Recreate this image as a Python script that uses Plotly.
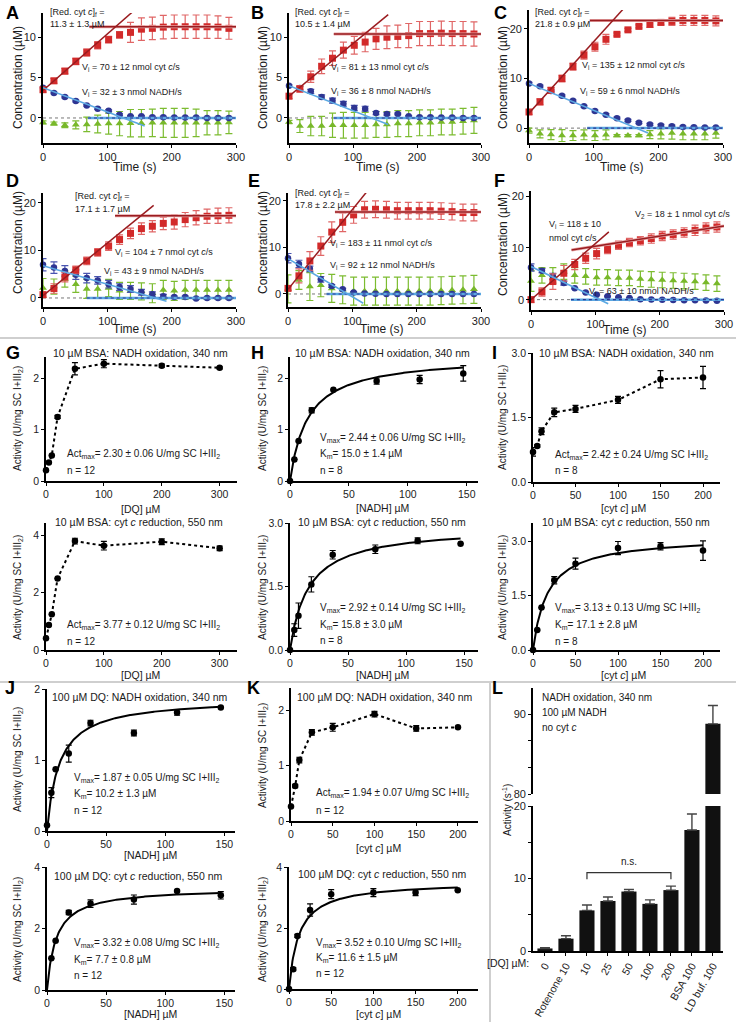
import numpy as np
import plotly.graph_objects as go

W, H = 736, 1022
FONT = "Liberation Sans, Arial, Helvetica, sans-serif"

# ---------------- DATA ----------------
t = [0, 17, 34, 51, 68, 85, 102, 119, 136, 153, 170, 187, 204, 221, 238, 255, 272, 289]

A_red = [3.5, 4.6, 5.8, 7.0, 8.1, 9.0, 9.7, 10.3, 10.6, 11.0, 11.1, 11.25, 11.3, 11.3, 11.3, 11.3, 11.25, 11.1]
A_red_err = [0.3, 0.3, 0.35, 0.4, 0.45, 0.45, 0.4, 0.4, 1.25, 1.4, 1.4, 1.45, 1.45, 1.45, 1.45, 1.45, 1.4, 1.35]
A_blue = [3.75, 3.1, 2.6, 2.1, 1.55, 1.15, 0.9, 0.4, 0.2, 0.2, 0.1, 0.1, 0.05, 0.05, 0.05, 0.0, 0.0, 0.0]
A_blue_err = [0.1] * 18
A_green = [-0.55, -0.7, -0.9, -0.85, -0.8, -0.75, -0.7, -0.7, -0.65, -0.65, -0.6, -0.6, -0.6, -0.6, -0.6, -0.6, -0.6, -0.55]
A_green_err = [0.2, 0.2, 0.3, 0.5, 0.9, 1.1, 1.3, 1.5, 1.7, 1.7, 1.7, 1.8, 1.8, 1.8, 1.7, 1.5, 1.5, 1.4]

B_red = [2.7, 3.6, 5.1, 6.4, 7.4, 8.4, 9.0, 9.4, 9.8, 10.0, 10.1, 10.2, 10.45, 10.45, 10.5, 10.45, 10.45, 10.4]
B_red_err = [0.3, 0.4, 0.7, 0.9, 0.9, 1.0, 1.1, 1.2, 1.3, 1.4, 1.4, 1.5, 1.5, 1.5, 1.5, 1.5, 1.5, 1.5]
B_blue = [4.0, 3.7, 3.3, 2.6, 2.15, 1.75, 1.25, 1.15, 0.6, 0.5, 0.5, 0.2, 0.1, 0.1, 0.05, 0.05, 0.0, 0.0]
B_blue_err = [0.1, 0.2, 0.25, 0.25, 0.3, 0.3, 0.3, 0.3, 0.2, 0.15, 0.1, 0.1, 0.1, 0.1, 0.1, 0.1, 0.1, 0.1]
B_green = [-0.5, -1.0, -1.0, -1.0, -0.9, -0.9, -0.9, -0.9, -0.8, -0.8, -0.7, -0.7, -0.6, -0.6, -0.5, -0.5, -0.4, -0.3]
B_green_err = [0.2, 0.8, 1.2, 1.2, 1.5, 1.6, 1.6, 1.6, 1.6, 1.6, 1.6, 1.6, 1.6, 1.6, 1.6, 1.6, 1.6, 1.6]

C_red = [3.25, 5.3, 7.6, 10.0, 12.4, 14.7, 16.4, 17.9, 18.9, 19.8, 20.5, 20.9, 21.3, 21.5, 21.7, 21.7, 21.7, 21.6]
C_red_err = [0.5, 0.6, 0.6, 0.7, 0.7, 0.8, 0.9, 1.0, 0.3, 0.3, 0.3, 0.6, 0.5, 0.8, 1.0, 1.0, 1.0, 1.0]
C_blue = [9.0, 8.45, 7.5, 6.5, 5.5, 4.4, 3.45, 2.7, 2.0, 1.55, 1.1, 0.75, 0.55, 0.4, 0.2, 0.15, 0.1, 0.1]
C_blue_err = [0.2] * 18
C_green = [-0.5, -1.15, -1.3, -1.5, -1.5, -1.35, -1.5, -1.35, -1.5, -1.5, -1.5, -1.3, -1.15, -1.0, -1.15, -1.15, -1.15, -1.0]
C_green_err = [0.5, 0.8, 1.0, 1.2, 1.0, 1.0, 1.0, 1.0, 0.2, 0.2, 0.2, 0.8, 1.0, 1.2, 1.2, 1.2, 1.2, 1.0]

D_red = [0.7, 2.0, 4.4, 5.9, 7.8, 9.6, 10.9, 12.3, 13.6, 14.6, 15.1, 15.7, 16.0, 16.5, 16.9, 17.2, 17.3, 17.4]
D_red_err = [0.5, 1.0, 1.0, 0.8, 0.8, 0.8, 0.9, 1.0, 1.1, 1.2, 1.2, 1.3, 1.5, 1.5, 1.5, 1.5, 1.6, 1.6]
D_blue = [7.0, 6.4, 5.7, 4.9, 4.2, 3.7, 2.9, 2.3, 1.9, 1.2, 0.8, 0.35, 0.2, 0.2, -0.1, 0.0, 0.0, 0.0]
D_blue_err = [1.3, 1.2, 1.1, 1.0, 1.0, 0.8, 0.8, 0.7, 0.7, 0.6, 0.5, 0.4, 0.2, 0.2, 0.2, 0.2, 0.2, 0.2]
D_green = [2.1, 2.4, 4.0, 2.9, 1.9, 1.9, 2.1, 1.5, 1.5, 1.4, 1.0, 1.7, 1.5, 1.7, 1.7, 1.7, 1.7, 1.7]
D_green_err = [2.0, 1.6, 1.7, 1.7, 2.0, 1.8, 1.8, 1.8, 1.8, 1.8, 2.0, 2.0, 2.0, 2.0, 2.0, 2.0, 2.0, 2.0]

E_red = [1.2, 3.9, 7.1, 10.3, 13.3, 15.4, 17.0, 18.1, 18.2, 18.1, 17.9, 17.9, 17.9, 17.9, 17.8, 17.7, 17.5, 17.5]
E_red_err = [0.5, 1.5, 2.0, 2.0, 2.2, 2.0, 1.8, 1.8, 1.8, 1.8, 1.8, 1.8, 1.8, 1.8, 1.8, 1.8, 1.8, 1.8]
E_blue = [7.7, 6.45, 5.4, 3.15, 1.7, 1.0, 0.3, 0.1, 0.05, 0.0, 0.0, 0.0, 0.0, 0.0, 0.0, 0.0, 0.0, 0.0]
E_blue_err = [1.0, 0.8, 0.6, 0.6, 0.3, 0.2, 0.2, 0.1, 0.1, 0.1, 0.1, 0.1, 0.1, 0.1, 0.1, 0.1, 0.1, 0.1]
E_green = [1.1, 3.0, 1.6, 1.9, 1.2, 0.9, 0.6, 0.6, 0.6, 0.6, 0.6, 0.6, 0.6, 0.6, 0.7, 0.8, 0.9, 1.0]
E_green_err = [3.0, 2.0, 3.0, 2.5, 3.0, 3.0, 3.0, 3.0, 3.0, 3.0, 3.0, 3.0, 3.0, 3.0, 3.0, 3.0, 3.0, 3.0]

F_red = [0.0, 1.5, 3.5, 5.1, 6.8, 8.0, 8.9, 9.7, 10.5, 11.05, 11.4, 11.8, 12.3, 12.6, 13.0, 13.4, 13.85, 14.05]
F_red_err = [0.5, 0.8, 1.5, 1.5, 1.0, 1.0, 1.0, 0.8, 0.8, 0.8, 0.8, 0.9, 0.9, 0.9, 0.9, 1.0, 1.0, 1.0]
F_blue = [6.2, 5.6, 4.5, 3.2, 2.2, 1.4, 0.95, 0.65, 0.45, 0.3, 0.1, 0.05, 0.0, -0.05, -0.1, -0.1, -0.15, -0.2]
F_blue_err = [0.7, 0.4, 0.6, 0.4, 0.1, 0.1, 0.1, 0.1, 0.1, 0.1, 0.1, 0.1, 0.1, 0.1, 0.1, 0.1, 0.1, 0.1]
F_green = [3.6, 4.7, 4.7, 5.4, 4.7, 4.5, 4.3, 4.3, 4.2, 4.2, 4.0, 3.9, 3.8, 3.7, 3.6, 3.5, 3.3, 3.1]
F_green_err = [2.0, 1.5, 1.5, 1.5, 1.5, 1.5, 1.5, 1.5, 1.5, 1.5, 1.5, 1.5, 1.5, 1.5, 1.5, 1.5, 1.5, 1.5]

# fitted lines: ([t0, t1], [y0, y1])
A_fit_red = ([0, 140], [3.4, 13.2]);   A_plat_red = ([72, 300], [11.3, 11.3])
A_fit_blue = ([0, 158], [3.75, -1.0]); A_plat_blue = ([70, 300], [0, 0])
B_fit_red = ([0, 155], [2.7, 12.8]);   B_plat_red = ([70, 300], [10.4, 10.4])
B_fit_blue = ([0, 155], [4.0, -0.8]);  B_plat_blue = ([70, 300], [0, 0])
C_fit_red = ([0, 145], [3.0, 23.9]);   C_plat_red = ([94, 300], [21.7, 21.7])
C_fit_blue = ([0, 184], [9.0, -1.0]);  C_plat_blue = ([90, 300], [0, 0])
D_fit_red = ([0, 172], [0.5, 19.5]);   D_plat_red = ([112, 300], [17.3, 17.3])
D_fit_blue = ([0, 192], [6.8, -0.7]);  D_plat_blue = ([68, 300], [0, 0])
E_fit_red = ([0, 125], [1.0, 22.4]);   E_plat_red = ([73, 300], [17.6, 17.6])
E_fit_blue = ([0, 117], [7.6, -2.0]);  E_plat_blue = ([60, 300], [0, 0])
F_fit_red = ([0, 121], [0.0, 13.1]);   F_plat_red = ([63, 300], [9.6, 14.25])
F_fit_blue = ([0, 120], [6.4, -0.8]);  F_plat_blue = ([62, 300], [0, 0])

DQ_x = [0, 5, 10, 20, 50, 100, 200, 300]
G_top_y = [0.21, 0.36, 0.5, 1.25, 2.19, 2.29, 2.25, 2.21]
G_top_err = [0, 0, 0, 0.03, 0.12, 0.08, 0.03, 0.02]
G_bot_y = [0.41, 0.87, 1.24, 2.49, 3.79, 3.63, 3.77, 3.54]
G_bot_err = [0, 0, 0, 0, 0.1, 0.15, 0.1, 0.08]

NADH_x = [0, 3.7, 7.3, 18.4, 36.8, 73.5, 110, 147]
H_top_y = [0, 0.42, 0.78, 1.38, 1.78, 1.95, 1.98, 2.1]
H_top_err = [0, 0, 0, 0.05, 0, 0.06, 0.08, 0.15]
H_bot_y = [0, 0.47, 0.81, 1.55, 2.25, 2.38, 2.58, 2.51]
H_bot_err = [0, 0.15, 0.3, 0.18, 0.1, 0.1, 0.07, 0]

CYT_x = [0, 5, 10, 25, 50, 100, 150, 200]
I_top_y = [0.70, 0.84, 1.18, 1.62, 1.70, 1.91, 2.39, 2.43]
I_top_err = [0.1, 0.03, 0.08, 0.1, 0.08, 0.08, 0.2, 0.26]
I_bot_y = [0, 0.55, 1.17, 1.92, 2.38, 2.81, 2.86, 2.74]
I_bot_err = [0, 0, 0, 0.1, 0.15, 0.18, 0.1, 0.27]

J_top_y = [0.08, 0.54, 0.87, 1.09, 1.52, 1.38, 1.67, 1.74]
J_top_err = [0, 0.07, 0, 0.12, 0.04, 0.04, 0.04, 0]
J_bot_y = [-0.02, 1.03, 1.6, 2.52, 2.81, 2.94, 3.22, 3.08]
J_bot_err = [0, 0, 0, 0.07, 0.12, 0.15, 0, 0.12]

K_top_y = [0.26, 0.63, 1.1, 1.6, 1.69, 1.93, 1.67, 1.69]
K_top_err = [0, 0.03, 0.05, 0.05, 0.07, 0.05, 0.05, 0]
K_bot_y = [0, 0.65, 1.74, 2.59, 3.11, 3.16, 3.16, 3.24]
K_bot_err = [0, 0.05, 0.05, 0.2, 0.15, 0.13, 0.1, 0]

# Michaelis-Menten fit parameters (Vmax, Km) as printed
H_top_fit = (2.44, 15.0)
H_bot_fit = (2.92, 15.8)
I_bot_fit = (3.13, 17.1)
J_top_fit = (1.87, 10.2)
J_bot_fit = (3.32, 7.7)
K_bot_fit = (3.52, 11.6)

L_labels = ['0', 'Rotenone 10', '10', '25', '50', '100', '200', 'BSA 100', 'LD buf. 100']
L_vals = [0.35, 1.7, 5.6, 6.9, 8.2, 6.5, 8.4, 16.7, 88.8]
L_err = [0.1, 0.4, 0.75, 0.55, 0.3, 0.55, 0.55, 2.2, 2.3]

# ---------------- STYLE ----------------
RED = '#d22a2a'; RED_E = '#e06666'; RED_FIT = '#9a1c20'; RED_SH = '#e6a3a3'
BLUE = '#2e3592'; BLUE_E = '#4a55b0'; BLUE_FIT = '#5ba8e2'
GREEN = '#78b82a'; GREEN_E = '#7cbc30'

fig = go.Figure()
lay = {}
annotations = []
shapes = []
counter = [0]


def add_axes(xpx, ypx, xr, yr, xt, yt, xtt=None, ytt=None, showx=True, xangle=None, xfont=11, tfont=11):
    counter[0] += 1
    i = counter[0]
    xn = 'xaxis' if i == 1 else f'xaxis{i}'
    yn = 'yaxis' if i == 1 else f'yaxis{i}'
    xref = 'x' if i == 1 else f'x{i}'
    yref = 'y' if i == 1 else f'y{i}'
    common = dict(linecolor='black', linewidth=1.6, ticks='outside', ticklen=3, tickwidth=1.4,
                  tickcolor='black', showgrid=False, zeroline=False, fixedrange=True, automargin=False,
                  tickfont=dict(family=FONT, size=tfont, color='#222'))
    xd = dict(domain=[xpx[0] / W, xpx[1] / W], range=xr, anchor=yref, tickvals=xt, showline=showx,
              ticklabelstandoff=0, **common)
    if xtt is not None:
        xd['ticktext'] = xtt
    if not showx:
        xd.update(showticklabels=False, ticks='')
    if xangle is not None:
        xd['tickangle'] = xangle
        xd['tickfont'] = dict(family=FONT, size=xfont, color='#222')
    yd = dict(domain=[1 - ypx[1] / H, 1 - ypx[0] / H], range=yr, anchor=xref, tickvals=yt, showline=True,
              ticklabelstandoff=0, **common)
    if ytt is not None:
        yd['ticktext'] = ytt
    lay[xn] = xd
    lay[yn] = yd
    return xref, yref


def ann(x, y, text, size=9.5, xanchor='left', yanchor='middle', angle=0, color='#1a1a1a'):
    annotations.append(dict(x=x / W, y=1 - y / H, xref='paper', yref='paper', text=text, showarrow=False,
                            xanchor=xanchor, yanchor=yanchor, textangle=angle,
                            font=dict(family=FONT, size=size, color=color)))


def line(xr, yr, xs, ys, color, width, dash='solid'):
    fig.add_trace(go.Scatter(x=xs, y=ys, mode='lines', line=dict(color=color, width=width, dash=dash),
                             xaxis=xr, yaxis=yr, showlegend=False, hoverinfo='skip'))


def points(xr, yr, xs, ys, errs, symbol, size, color, ecolor, ewidth=3.5):
    fig.add_trace(go.Scatter(x=xs, y=ys, mode='markers', cliponaxis=False,
                             marker=dict(symbol=symbol, size=size, color=color, line=dict(width=0)),
                             error_y=dict(type='data', array=errs, color=ecolor, thickness=1.2, width=ewidth),
                             xaxis=xr, yaxis=yr, showlegend=False))


def timecourse(xpx, ypx, yrange, yticks, red, red_err, blue, blue_err, green, green_err,
               fit_red, plat_red, fit_blue, plat_blue):
    xr, yr = add_axes(xpx, ypx, [0, 300], yrange, [0, 100, 200, 300], yticks, tfont=11)
    line(xr, yr, [0, 300], [0, 0], '#777', 1, 'dot')
    points(xr, yr, t, green, green_err, 'triangle-up', 7, GREEN, GREEN_E)
    points(xr, yr, t, blue, blue_err, 'circle', 6.5, BLUE, BLUE_E)
    points(xr, yr, t, red, red_err, 'square', 7, RED, RED_E)
    line(xr, yr, plat_red[0], plat_red[1], RED_SH, 3)
    line(xr, yr, plat_red[0], plat_red[1], RED_FIT, 1.5)
    line(xr, yr, fit_red[0], fit_red[1], RED_FIT, 1.5)
    line(xr, yr, plat_blue[0], plat_blue[1], BLUE_FIT, 2.5)
    line(xr, yr, plat_blue[0], plat_blue[1], BLUE, 1.1, 'dot')
    line(xr, yr, fit_blue[0], fit_blue[1], BLUE_FIT, 1.6)
    return xr, yr


# ---------------- PANELS A-F ----------------
timecourse((43, 236), (13, 143), [-3.1, 13.0], [0, 5, 10], A_red, A_red_err, A_blue, A_blue_err,
           A_green, A_green_err, A_fit_red, A_plat_red, A_fit_blue, A_plat_blue)
timecourse((289, 481), (13, 143), [-3.1, 13.0], [0, 5, 10], B_red, B_red_err, B_blue, B_blue_err,
           B_green, B_green_err, B_fit_red, B_plat_red, B_fit_blue, B_plat_blue)
timecourse((529, 723), (10, 143), [-3.0, 23.8], [0, 10, 20], C_red, C_red_err, C_blue, C_blue_err,
           C_green, C_green_err, C_fit_red, C_plat_red, C_fit_blue, C_plat_blue)
timecourse((43, 236), (193, 307), [-1.9, 22.1], [0, 10, 20], D_red, D_red_err, D_blue, D_blue_err,
           D_green, D_green_err, D_fit_red, D_plat_red, D_fit_blue, D_plat_blue)
timecourse((288, 481), (193, 307), [-2.8, 21.7], [0, 10, 20], E_red, E_red_err, E_blue, E_blue_err,
           E_green, E_green_err, E_fit_red, E_plat_red, E_fit_blue, E_plat_blue)
timecourse((531, 724), (191, 310), [-2.0, 21.0], [0, 10, 20], F_red, F_red_err, F_blue, F_blue_err,
           F_green, F_green_err, F_fit_red, F_plat_red, F_fit_blue, F_plat_blue)

cc = 'cyt <i>c</i>'
# A
ann(48, 13, f'[Red. {cc}]<sub>f</sub> =', 9)
ann(48, 24, '11.3 ± 1.3 µM', 9)
ann(80, 67, f'V<sub>i</sub> = 70 ± 12 nmol {cc}/s', 9)
ann(80, 93, 'V<sub>i</sub> = 32 ± 3 nmol NADH/s', 9)
# B
ann(293, 13, f'[Red. {cc}]<sub>f</sub> =', 9)
ann(293, 24, '10.5 ± 1.4 µM', 9)
ann(329, 67, f'V<sub>i</sub> = 81 ± 13 nmol {cc}/s', 9)
ann(329, 91, 'V<sub>i</sub> = 36 ± 8 nmol NADH/s', 9)
# C
ann(533, 12, f'[Red. {cc}]<sub>f</sub> =', 9)
ann(533, 24, '21.8 ± 0.9 µM', 9)
ann(580, 66, f'V<sub>i</sub> = 135 ± 12 nmol {cc}/s', 9)
ann(578, 91, 'V<sub>i</sub> = 59 ± 6 nmol NADH/s', 9)
# D
ann(73, 197, f'[Red. {cc}]<sub>f</sub> =', 9)
ann(73, 209, '17.1 ± 1.7 µM', 9)
ann(113, 253, f'V<sub>i</sub> = 104 ± 7 nmol {cc}/s', 9)
ann(102, 271, 'V<sub>i</sub> = 43 ± 9 nmol NADH/s', 9)
# E
ann(293, 194, f'[Red. {cc}]<sub>f</sub> =', 9)
ann(293, 205, '17.8 ± 2.2 µM', 9)
ann(328, 243, f'V<sub>i</sub> = 183 ± 11 nmol {cc}/s', 9)
ann(328, 266, 'V<sub>i</sub> = 92 ± 12 nmol NADH/s', 9)
# F
ann(633, 214, f'V<sub>2</sub> = 18 ± 1 nmol {cc}/s', 9)
ann(547, 225, 'V<sub>i</sub> = 118 ± 10', 9)
ann(547, 238, f'nmol {cc}/s', 9)
ann(587, 291, 'V<sub>i</sub> = 63 ± 10 nmol NADH/s', 9)

for cx, cy in [(18, 78), (263, 78), (503, 78), (18, 243), (263, 243), (503, 245)]:
    ann(cx, cy, 'Concentration (µM)', 12, 'center', 'middle', -90)
for cx, cy in [(135, 167), (378, 167), (622, 167), (135, 329), (382, 329), (625, 330)]:
    ann(cx, cy, 'Time (s)', 12, 'center', 'middle')


# ---------------- PANELS G-K ----------------
def kin_panel(xpx, ypx, xrange, yrange, xt, yt, ytt, xs, ys, errs, fit=None, xend=None, dotted=False):
    xr, yr = add_axes(xpx, ypx, xrange, yrange, xt, yt, ytt=ytt, tfont=10.5)
    if dotted:
        line(xr, yr, xs, ys, 'black', 2, 'dot')
    if fit is not None:
        xc = np.linspace(0, xend, 300)
        yc = fit[0] * xc / (fit[1] + xc)
        line(xr, yr, xc, yc, 'black', 2)
    points(xr, yr, xs, ys, errs, 'circle', 6.5, 'black', 'black', 3)


kin_panel((46, 237), (357, 481), [0, 330], [0, 2.42], [0, 100, 200, 300], [0, 1, 2], None,
          DQ_x, G_top_y, G_top_err, dotted=True)
kin_panel((46, 237), (523, 650), [0, 330], [0, 4.42], [0, 100, 200, 300], [0, 2, 4], None,
          DQ_x, G_bot_y, G_bot_err, dotted=True)
kin_panel((290, 478), (357, 481), [0, 159.5], [0, 2.42], [0, 50, 100, 150], [0, 1, 2], None,
          NADH_x, H_top_y, H_top_err, fit=H_top_fit, xend=147)
kin_panel((290, 478), (523, 650), [0, 162], [0, 3.0], [0, 50, 100, 150], [0, 1.5, 3.0], ['0.0', '1.5', '3.0'],
          NADH_x, H_bot_y, H_bot_err, fit=H_bot_fit, xend=147)
kin_panel((533, 720), (353, 482), [0, 220], [0, 3.0], [0, 50, 100, 150, 200], [0, 1.5, 3.0], ['0.0', '1.5', '3.0'],
          CYT_x, I_top_y, I_top_err, dotted=True)
kin_panel((533, 720), (523, 650), [0, 220], [0, 3.5], [0, 50, 100, 150, 200], [0, 1.5, 3.0], ['0.0', '1.5', '3.0'],
          CYT_x, I_bot_y, I_bot_err, fit=I_bot_fit, xend=200)
kin_panel((47, 235), (689, 831), [0, 159], [0, 2.0], [0, 50, 100, 150], [0, 1, 2], None,
          NADH_x, J_top_y, J_top_err, fit=J_top_fit, xend=147)
kin_panel((47, 235), (867, 990), [0, 159], [0, 4.0], [0, 50, 100, 150], [0, 2, 4], None,
          NADH_x, J_bot_y, J_bot_err, fit=J_bot_fit, xend=147)
kin_panel((291, 478), (688, 821), [0, 224], [0, 2.4], [0, 50, 100, 150, 200], [0, 1, 2], None,
          CYT_x, K_top_y, K_top_err, dotted=True)
kin_panel((289, 478), (867, 989), [0, 224], [0, 4.0], [0, 50, 100, 150, 200], [0, 2, 4], None,
          CYT_x, K_bot_y, K_bot_err, fit=K_bot_fit, xend=200)

S = 10
ACT = 'Activity (U/mg SC I+III<sub>2</sub>)'
UNIT = 'U/mg SC I+III<sub>2</sub>'
# titles
ann(140, 353, '10 µM BSA: NADH oxidation, 340 nm', 10.5, 'center')
ann(139, 522, f'10 µM BSA: {cc} reduction, 550 nm', 10.5, 'center')
ann(382, 353, '10 µM BSA: NADH oxidation, 340 nm', 10.5, 'center')
ann(382, 522, f'10 µM BSA: {cc} reduction, 550 nm', 10.5, 'center')
ann(626, 353, '10 µM BSA: NADH oxidation, 340 nm', 10.5, 'center')
ann(626, 522, f'10 µM BSA: {cc} reduction, 550 nm', 10.5, 'center')
ann(140, 697, '100 µM DQ: NADH oxidation, 340 nm', 10.5, 'center')
ann(138, 876, f'100 µM DQ: {cc} reduction, 550 nm', 10.5, 'center')
ann(385, 697, '100 µM DQ: NADH oxidation, 340 nm', 10.5, 'center')
ann(382, 874, f'100 µM DQ: {cc} reduction, 550 nm', 10.5, 'center')
# stats
ann(65, 454, f'Act<sub>max</sub>= 2.30 ± 0.06 {UNIT}', S)
ann(65, 470, 'n = 12', S)
ann(65, 625, f'Act<sub>max</sub>= 3.77 ± 0.12 {UNIT}', S)
ann(65, 641, 'n = 12', S)
ann(318, 438, f'V<sub>max</sub>= 2.44 ± 0.06 {UNIT}', S)
ann(318, 454, 'K<sub>m</sub>= 15.0 ± 1.4 µM', S)
ann(318, 470, 'n = 8', S)
ann(318, 608, f'V<sub>max</sub>= 2.92 ± 0.14 {UNIT}', S)
ann(318, 625, 'K<sub>m</sub>= 15.8 ± 3.0 µM', S)
ann(318, 640, 'n = 8', S)
ann(553, 455, f'Act<sub>max</sub>= 2.42 ± 0.24 {UNIT}', S)
ann(553, 470, 'n = 8', S)
ann(553, 608, f'V<sub>max</sub>= 3.13 ± 0.13 {UNIT}', S)
ann(553, 625, 'K<sub>m</sub>= 17.1 ± 2.8 µM', S)
ann(553, 641, 'n = 8', S)
ann(72, 778, f'V<sub>max</sub>= 1.87 ± 0.05 {UNIT}', S)
ann(72, 794, 'K<sub>m</sub>= 10.2 ± 1.3 µM', S)
ann(72, 810, 'n = 12', S)
ann(72, 943, f'V<sub>max</sub>= 3.32 ± 0.08 {UNIT}', S)
ann(72, 960, 'K<sub>m</sub>= 7.7 ± 0.8 µM', S)
ann(72, 975, 'n = 12', S)
ann(314, 793, f'Act<sub>max</sub>= 1.94 ± 0.07 {UNIT}', S)
ann(314, 810, 'n = 12', S)
ann(314, 943, f'V<sub>max</sub>= 3.52 ± 0.10 {UNIT}', S)
ann(314, 958, 'K<sub>m</sub>= 11.6 ± 1.5 µM', S)
ann(314, 973, 'n = 12', S)
# axis titles
for cx, cy in [(18, 419), (18, 588), (263, 419), (263, 588), (503, 418), (503, 588),
               (18, 760), (18, 930), (263, 756), (263, 930)]:
    ann(cx, cy, ACT, 10, 'center', 'middle', -90)
for cx, cy, txt in [(140, 509, '[DQ] µM'), (140, 675, '[DQ] µM'),
                    (383, 508, '[NADH] µM'), (383, 675, '[NADH] µM'),
                    (623, 508, f'[{cc}] µM'), (623, 675, f'[{cc}] µM'),
                    (150, 855, '[NADH] µM'), (150, 1014, '[NADH] µM'),
                    (378, 848, f'[{cc}] µM'), (378, 1014, f'[{cc}] µM')]:
    ann(cx, cy, txt, 10.5, 'center', 'middle')

# ---------------- PANEL L ----------------
Lx = list(range(len(L_labels)))
xr_lo, yr_lo = add_axes((533, 723), (806, 951), [-0.57, 8.48], [0, 20], Lx, [0, 5, 10, 15, 20],
                        xtt=L_labels, ytt=['0', '', '10', '', '20'], xangle=-60, xfont=10.5)
lo_err = [e if v <= 20 else 0 for v, e in zip(L_vals, L_err)]
fig.add_trace(go.Bar(x=Lx, y=L_vals, width=0.72, marker=dict(color='#111111', line=dict(width=0)),
                     error_y=dict(type='data', symmetric=False, array=lo_err, arrayminus=[0] * len(Lx),
                                  color='#444', thickness=1.4, width=5),
                     xaxis=xr_lo, yaxis=yr_lo, showlegend=False))
xr_up, yr_up = add_axes((533, 723), (688, 794), [-0.57, 8.48], [80, 93.3], Lx, [80, 83.33, 86.67, 90],
                        ytt=['80', '', '', '90'], showx=False)
up_vals = [v if v > 80 else None for v in L_vals]
up_err = [e if v > 80 else 0 for v, e in zip(L_vals, L_err)]
fig.add_trace(go.Bar(x=Lx, y=up_vals, width=0.72, marker=dict(color='#111111', line=dict(width=0)),
                     error_y=dict(type='data', symmetric=False, array=up_err, arrayminus=[0] * len(Lx),
                                  color='#444', thickness=1.4, width=5),
                     xaxis=xr_up, yaxis=yr_up, showlegend=False))
# n.s. bracket
line(xr_lo, yr_lo, [2, 2, 6, 6], [9.9, 10.8, 10.8, 9.9], '#333', 1.2)
annotations.append(dict(x=4, y=11.3, xref=xr_lo, yref=yr_lo, text='n.s.', showarrow=False,
                        yanchor='bottom', font=dict(family=FONT, size=10, color='#222')))
ann(540, 697, 'NADH oxidation, 340 nm', 10)
ann(540, 712, '100 µM NADH', 10)
ann(540, 727, f'no {cc}', 10)
ann(507, 810, 'Activity (s<sup>-1</sup>)', 10, 'center', 'middle', -90)
ann(531, 963, '[DQ] µM:', 10.5, 'right', 'middle')

# ---------------- PANEL LETTERS & SEPARATORS ----------------
for letter, x, y in [('A', 12, 13), ('B', 257, 13), ('C', 500, 13), ('D', 12, 181), ('E', 254, 181),
                     ('F', 499, 181), ('G', 13, 353), ('H', 257, 353), ('I', 494, 353),
                     ('J', 10, 688), ('K', 254, 688), ('L', 497, 688)]:
    ann(x, y, f'<b>{letter}</b>', 18, 'center', 'middle', color='black')

for (x0, y0, x1, y1) in [(0, 338, 736, 338), (0, 682, 736, 682), (490, 682, 490, 1022)]:
    shapes.append(dict(type='line', xref='paper', yref='paper', x0=x0 / W, x1=x1 / W,
                       y0=1 - y0 / H, y1=1 - y1 / H, line=dict(color='#cfcfcf', width=2)))

fig.update_layout(width=W, height=H, margin=dict(l=0, r=0, t=0, b=0, autoexpand=False), paper_bgcolor='white',
                  plot_bgcolor='white', showlegend=False, annotations=annotations, shapes=shapes,
                  font=dict(family=FONT), bargap=0.3, **lay)
fig.write_html("out.html", config={'displayModeBar': False},
               post_script="document.body.style.margin='0';document.body.style.padding='0';"
                           "document.body.style.overflow='hidden';")
